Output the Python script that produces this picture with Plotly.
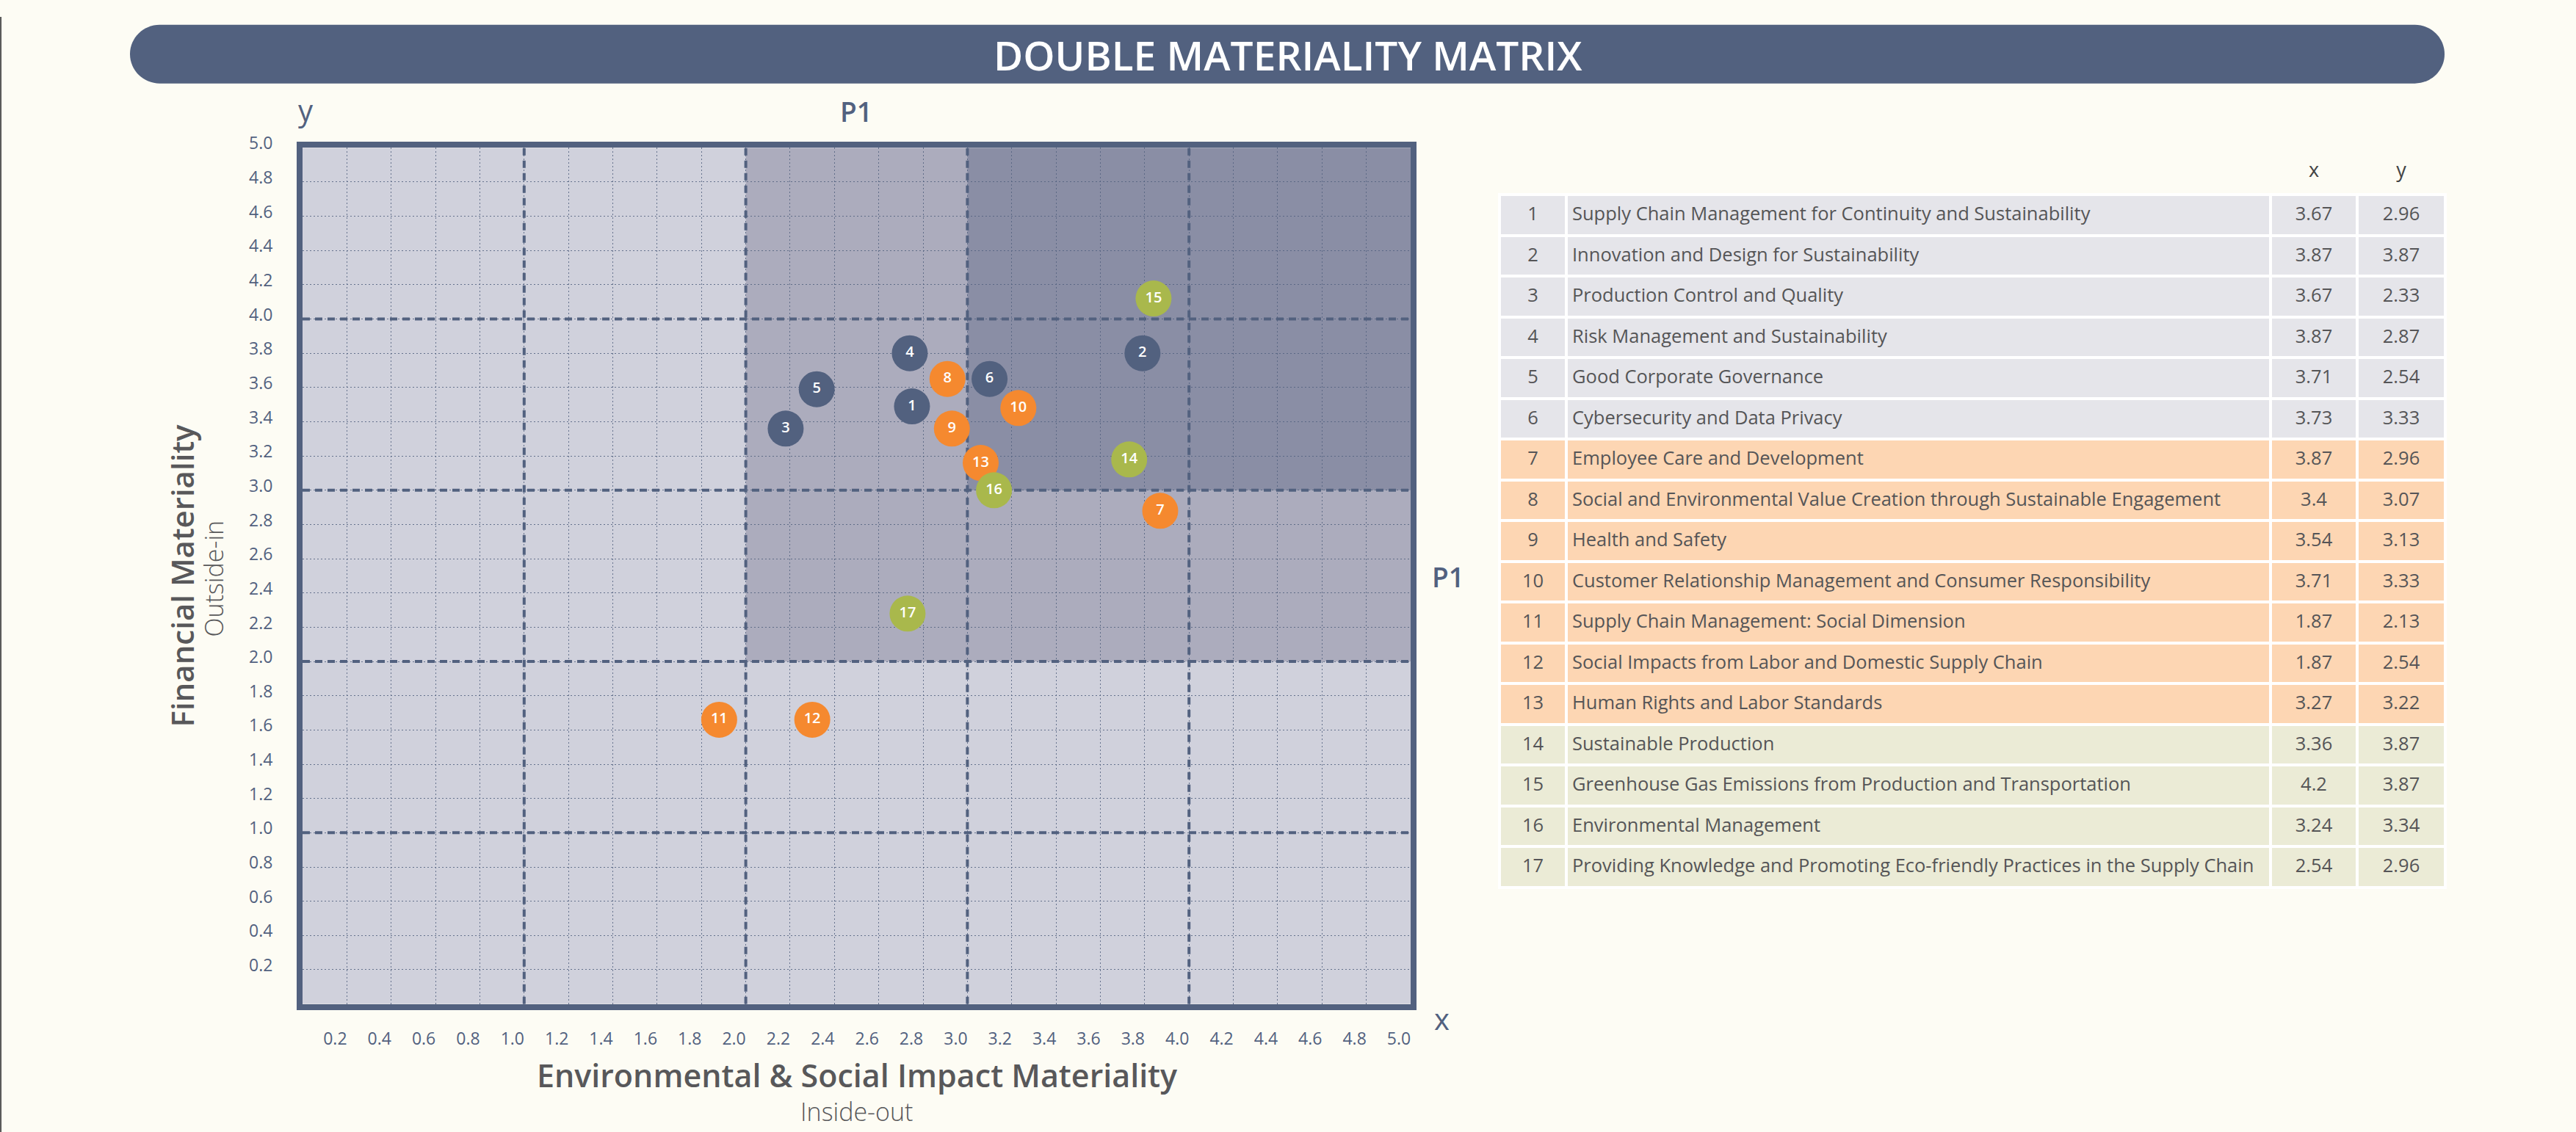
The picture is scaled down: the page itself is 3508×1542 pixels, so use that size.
import plotly.graph_objects as go

# ---------------- data ----------------
ids = ["1", "2", "3", "4", "5", "6", "7", "8", "9", "10", "11", "12", "13", "14", "15", "16", "17"]
groups = ["gov"] * 6 + ["soc"] * 7 + ["env"] * 4
topics = [
    "Supply Chain Management for Continuity and Sustainability",
    "Innovation and Design for Sustainability",
    "Production Control and Quality",
    "Risk Management and Sustainability",
    "Good Corporate Governance",
    "Cybersecurity and Data Privacy",
    "Employee Care and Development",
    "Social and Environmental Value Creation through Sustainable Engagement",
    "Health and Safety",
    "Customer Relationship Management and Consumer Responsibility",
    "Supply Chain Management: Social Dimension",
    "Social Impacts from Labor and Domestic Supply Chain",
    "Human Rights and Labor Standards",
    "Sustainable Production",
    "Greenhouse Gas Emissions from Production and Transportation",
    "Environmental Management",
    "Providing Knowledge and Promoting Eco-friendly Practices in the Supply Chain",
]
table_x = ["3.67", "3.87", "3.67", "3.87", "3.71", "3.73", "3.87", "3.4", "3.54",
           "3.71", "1.87", "1.87", "3.27", "3.36", "4.2", "3.24", "2.54"]
table_y = ["2.96", "3.87", "2.33", "2.87", "2.54", "3.33", "2.96", "3.07", "3.13",
           "3.33", "2.13", "2.54", "3.22", "3.87", "3.87", "3.34", "2.96"]
table_header = ["", "", "x", "y"]
# positions of the bubbles as drawn in the matrix
plot_x = [2.75, 3.79, 2.18, 2.74, 2.32, 3.10, 3.87, 2.91, 2.93, 3.23, 1.88, 2.30, 3.06, 3.73, 3.84, 3.12, 2.73]
plot_y = [3.49, 3.80, 3.36, 3.80, 3.59, 3.65, 2.88, 3.65, 3.36, 3.48, 1.66, 1.66, 3.16, 3.18, 4.12, 3.00, 2.28]
tick_labels = ["0.2", "0.4", "0.6", "0.8", "1.0", "1.2", "1.4", "1.6", "1.8", "2.0",
               "2.2", "2.4", "2.6", "2.8", "3.0", "3.2", "3.4", "3.6", "3.8", "4.0",
               "4.2", "4.4", "4.6", "4.8", "5.0"]
major_lines = [1, 2, 3, 4]

# ---------------- styles ----------------
W, H = 3508, 1542
BG = "#fdfcf4"
NAVY = "#52617f"
marker_col = {"gov": "#52617f", "soc": "#f5892f", "env": "#a9b84c"}
row_col = {"gov": "#e5e5ea", "soc": "#fdd6b3", "env": "#ebebd6"}
TXT = "#555557"
FONT = "Open Sans"
CLEAR = "rgba(0,0,0,0)"


def px(x):
    return x / W


def py(y):
    return 1 - y / H


fig = go.Figure()

# bubbles
fig.add_trace(go.Scatter(
    x=plot_x, y=plot_y, mode="markers+text", text=ids,
    textposition="middle center",
    textfont=dict(family=FONT, size=20, color="white", weight=600),
    marker=dict(size=49, color=[marker_col[g] for g in groups], line=dict(width=0), opacity=1),
    hoverinfo="skip", showlegend=False, cliponaxis=False,
))

# table: background cells
rows_fill = [row_col[g] for g in groups]
blank = [""] * len(ids)
TABLE_TOP = 185
COLW = [91, 959, 118, 120]
fig.add_trace(go.Table(
    domain=dict(x=[px(2042), px(3330)], y=[py(1320), py(TABLE_TOP)]),
    columnwidth=COLW,
    header=dict(values=["", "", "", ""], fill_color=CLEAR,
                line=dict(width=0, color=CLEAR), height=60),
    cells=dict(values=[blank, blank, blank, blank],
               fill_color=[rows_fill] * 4,
               line=dict(color="white", width=4),
               height=55.5, font=dict(family=FONT, size=26, color=TXT)),
))
# table: header + cell text (offset a few px to centre text vertically in each row)
SHIFT = 8
fig.add_trace(go.Table(
    domain=dict(x=[px(2042), px(3330)], y=[py(1320), py(TABLE_TOP + SHIFT)]),
    columnwidth=COLW,
    header=dict(values=table_header, fill_color=CLEAR,
                line=dict(width=0, color=CLEAR), height=60,
                align="center", font=dict(family=FONT, size=27, color="#444444")),
    cells=dict(values=[ids, topics, table_x, table_y],
               fill_color=CLEAR,
               line=dict(color=CLEAR, width=0),
               align=["center", "left", "center", "center"],
               height=55.5,
               font=dict(family=FONT, size=25.5, color=TXT, weight=400)),
))

shapes = []
# quadrant shading
shapes.append(dict(type="rect", xref="x", yref="y", x0=2, x1=5, y0=2, y1=5,
                   fillcolor="#acacbd", line=dict(width=0), layer="below"))
shapes.append(dict(type="rect", xref="x", yref="y", x0=3, x1=5, y0=3, y1=5,
                   fillcolor="#8a8ea5", line=dict(width=0), layer="below"))
# major dashed lines
for v in major_lines:
    shapes.append(dict(type="line", xref="x", yref="y", x0=v, x1=v, y0=0, y1=5,
                       line=dict(color=NAVY, width=4, dash="10px,7px"), layer="between"))
    shapes.append(dict(type="line", xref="x", yref="y", x0=0, x1=5, y0=v, y1=v,
                       line=dict(color=NAVY, width=4, dash="10px,7px"), layer="between"))

# title pill
x0, x1, y0, y1 = 177, 3329, 11, 92
r = (y1 - y0) / 2
k = 0.5523 * r
ym = y0 + r
pts = [
    ("M", [(x0 + r, y0)]),
    ("L", [(x1 - r, y0)]),
    ("C", [(x1 - r + k, y0), (x1, ym - k), (x1, ym)]),
    ("C", [(x1, ym + k), (x1 - r + k, y1), (x1 - r, y1)]),
    ("L", [(x0 + r, y1)]),
    ("C", [(x0 + r - k, y1), (x0, ym + k), (x0, ym)]),
    ("C", [(x0, ym - k), (x0 + r - k, y0), (x0 + r, y0)]),
]
path = ""
for cmd, ps in pts:
    path += cmd + " " + " ".join(f"{px(a):.6f},{py(b):.6f}" for a, b in ps) + " "
path += "Z"
shapes.append(dict(type="path", xref="paper", yref="paper", path=path,
                   fillcolor=NAVY, line=dict(width=0), layer="above"))
# left frame edge
shapes.append(dict(type="line", xref="paper", yref="paper", x0=0.0003, x1=0.0003, y0=0, y1=1,
                   line=dict(color="#555555", width=2)))

annotations = [
    dict(text="DOUBLE MATERIALITY MATRIX", x=px(1754), y=py(52), font=dict(family=FONT, size=55, color="white", weight=600)),
    dict(text="y", x=px(416), y=py(128), font=dict(family=FONT, size=40, color=NAVY, weight=500)),
    dict(text="P1", x=px(1166), y=py(130), font=dict(family=FONT, size=37, color=NAVY, weight=600)),
    dict(text="P1", x=px(1972), y=py(774), font=dict(family=FONT, size=37, color=NAVY, weight=600)),
    dict(text="x", x=px(1964), y=py(1385), font=dict(family=FONT, size=40, color=NAVY, weight=500)),
    dict(text="Financial Materiality", x=px(247), y=py(773), textangle=-90,
         font=dict(family=FONT, size=42, color="#58585a", weight=600)),
    dict(text="Outside-in", x=px(291), y=py(777), textangle=-90,
         font=dict(family=FONT, size=34, color="#58585a", weight=300)),
    dict(text="Environmental & Social Impact Materiality", x=px(1167), y=py(1463),
         font=dict(family=FONT, size=43, color="#58585a", weight=600)),
    dict(text="Inside-out", x=px(1166), y=py(1514),
         font=dict(family=FONT, size=34, color="#58585a", weight=300)),
]
for a in annotations:
    a.update(xref="paper", yref="paper", showarrow=False, xanchor="center", yanchor="middle")

tickvals = [float(t) for t in tick_labels]
axis_common = dict(
    range=[0, 5], tickvals=tickvals, ticktext=tick_labels, showgrid=True,
    gridcolor="rgba(82,97,127,0.85)", gridwidth=1.4, griddash="2px,3px",
    zeroline=False, showline=True, mirror=True, linewidth=8, linecolor=NAVY,
    ticks="", tickfont=dict(family=FONT, size=23, color=NAVY), fixedrange=True,
)

fig.update_layout(
    width=W, height=H, margin=dict(l=0, r=0, t=0, b=0),
    paper_bgcolor=BG, plot_bgcolor="#d0d1dc",
    xaxis=dict(domain=[px(412), px(1921)], ticklabelshift=-16, ticklabelstandoff=20, **axis_common),
    yaxis=dict(domain=[py(1365), py(181)], ticklabelshift=-6, ticklabelstandoff=28, **axis_common),
    shapes=shapes, annotations=annotations, showlegend=False,
)

fig.write_html("out.html")
